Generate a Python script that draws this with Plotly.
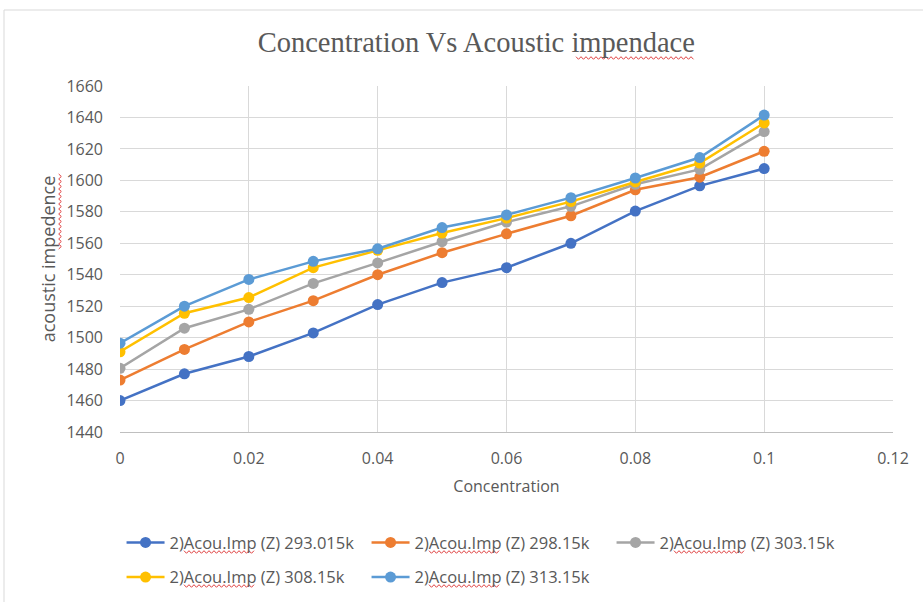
import plotly.graph_objects as go

concentration = [0, 0.01, 0.02, 0.03, 0.04, 0.05, 0.06, 0.07, 0.08, 0.09, 0.1]
series_names = [
    "2)Acou.Imp (Z) 293.015k",
    "2)Acou.Imp (Z) 298.15k",
    "2)Acou.Imp (Z) 303.15k",
    "2)Acou.Imp (Z) 308.15k",
    "2)Acou.Imp (Z) 313.15k",
]
z_293 = [1460, 1477, 1488, 1503, 1521, 1535, 1544.5, 1560, 1580.5, 1596.5, 1607.5]
z_298 = [1473, 1492.5, 1510, 1523.5, 1540, 1554, 1566, 1577.5, 1594, 1602, 1618.5]
z_303 = [1480.5, 1506, 1518, 1534.5, 1547.5, 1561, 1573.5, 1583.5, 1597.5, 1607, 1631]
z_308 = [1491, 1515.5, 1525.5, 1544.5, 1555.5, 1566.5, 1576, 1586.5, 1599, 1611, 1636.5]
z_313 = [1496.5, 1520, 1537, 1548.5, 1556.5, 1570, 1578, 1589, 1601.5, 1614.5, 1641.5]
series_values = [z_293, z_298, z_303, z_308, z_313]
colors = ["#4472C4", "#ED7D31", "#A5A5A5", "#FFC000", "#5B9BD5"]
legend_rows = ["legend", "legend", "legend", "legend2", "legend2"]

x_ticks = [0, 0.02, 0.04, 0.06, 0.08, 0.1, 0.12]
x_tick_labels = ["0", "0.02", "0.04", "0.06", "0.08", "0.1", "0.12"]
y_ticks = list(range(1440, 1661, 20))

# layout geometry (pixels) used to convert decoration positions to paper coords
W, H = 923, 602
ML, MR, MT, MB = 120, 30, 86, 170
PW, PH = W - ML - MR, H - MT - MB


def px(xp):
    return (xp - ML) / PW


def py(yp):
    return (H - MB - yp) / PH


def squiggle_h(x0, x1, y, amp=1.3, step=2.5):
    pts, k, x = [], 0, x0
    while x <= x1:
        pts.append((px(x), py(y + (amp if k % 2 else -amp))))
        x += step
        k += 1
    return "M " + " L ".join(f"{a:.5f},{b:.5f}" for a, b in pts)


def squiggle_v(x, y0, y1, amp=1.3, step=2.5):
    pts, k, y = [], 0, y0
    while y <= y1:
        pts.append((px(x + (amp if k % 2 else -amp)), py(y)))
        y += step
        k += 1
    return "M " + " L ".join(f"{a:.5f},{b:.5f}" for a, b in pts)


red = "#E04040"
squiggles = [squiggle_h(576, 694, 58), squiggle_v(60, 174, 250)]
legend_text_starts = [(169, 552), (414, 552), (659, 552), (169, 586), (414, 586)]
for sx, sy in legend_text_starts:
    squiggles.append(squiggle_h(sx + 15, sx + 86, sy))

fig = go.Figure()
for name, vals, col, lg in zip(series_names, series_values, colors, legend_rows):
    fig.add_trace(go.Scatter(
        x=concentration, y=vals, name=name, mode="lines+markers",
        line=dict(color=col, width=2.5),
        marker=dict(color=col, size=11),
        legend=lg,
    ))

font_fam = "Open Sans, sans-serif"
txt = "#595959"
legend_common = dict(orientation="h", xanchor="left", yanchor="middle",
                     font=dict(size=16.5, color=txt, family=font_fam), itemwidth=38,
                     entrywidth=192, entrywidthmode="pixels",
                     traceorder="normal", bgcolor="rgba(0,0,0,0)")
shapes = [
    dict(type="line", xref="paper", yref="paper", x0=px(4), x1=px(W), y0=py(10), y1=py(10),
         line=dict(color="#D9D9D9", width=1)),
    dict(type="line", xref="paper", yref="paper", x0=px(4), x1=px(4), y0=py(10), y1=py(H),
         line=dict(color="#D9D9D9", width=1)),
]
for p in squiggles:
    shapes.append(dict(type="path", xref="paper", yref="paper", path=p,
                       line=dict(color=red, width=1)))

fig.update_layout(
    width=W, height=H,
    margin=dict(l=ML, r=MR, t=MT, b=MB, autoexpand=False),
    paper_bgcolor="white", plot_bgcolor="white",
    title=dict(text="Concentration Vs Acoustic impendace", x=0.516, xanchor="center",
               y=0.93, yanchor="middle",
               font=dict(family="Liberation Serif, serif", size=28.5, color=txt)),
    font=dict(family=font_fam, color=txt, size=16),
    xaxis=dict(range=[0, 0.12], tickvals=x_ticks, ticktext=x_tick_labels,
               showgrid=True, gridcolor="#D9D9D9", gridwidth=1,
               showline=True, linecolor="#BFBFBF", zeroline=False,
               ticks="", ticklabelstandoff=12, automargin=False,
               tickfont=dict(size=16, color=txt),
               title=dict(text="Concentration", standoff=12,
                          font=dict(size=16, color=txt))),
    yaxis=dict(range=[1440, 1660], tickvals=y_ticks,
               showgrid=True, gridcolor="#D9D9D9", gridwidth=1,
               showline=False, zeroline=False, ticks="", ticklabelstandoff=16,
               automargin=False,
               tickfont=dict(size=16, color=txt),
               title=dict(text="acoustic impedence", standoff=6,
                          font=dict(size=18, color=txt))),
    legend=dict(x=0.002, y=-0.32, **legend_common),
    legend2=dict(x=0.002, y=-0.42, **legend_common),
    shapes=shapes,
)
fig.write_html("out.html")
